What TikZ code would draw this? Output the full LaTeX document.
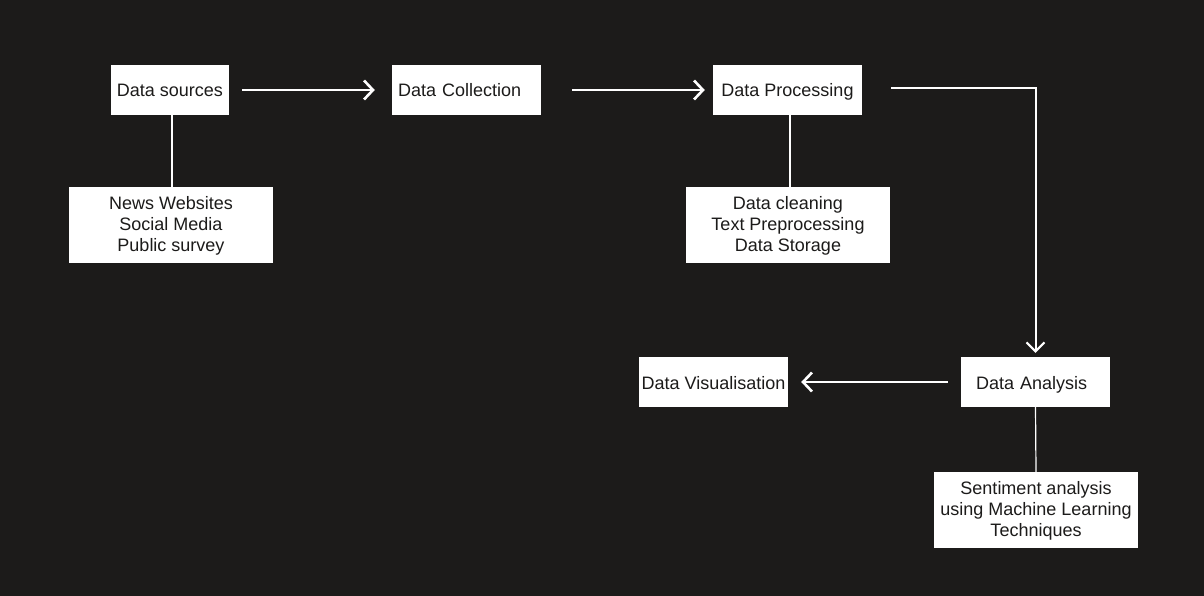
\documentclass[tikz,border=0pt]{standalone}
\usepackage{fontspec}
\setmainfont{Liberation Sans}
\usetikzlibrary{arrows.meta}
\definecolor{bg}{RGB}{28,27,26}
\begin{document}
\begin{tikzpicture}[x=1pt,y=-1pt,
  box/.style={fill=white, text=bg, inner sep=0pt, align=center,
    font=\fontsize{18}{21}\selectfont},
  single/.style={box, minimum height=50pt, text height=16pt, text depth=2pt},
  multi/.style={box, minimum width=204pt, minimum height=76pt},
  flow/.style={draw=white, line width=2.6pt,
    -{Straight Barb[length=9pt,width=19pt,line width=2.6pt]}},
  flowthin/.style={draw=white, line width=2pt,
    -{Straight Barb[length=9pt,width=18pt,line width=2pt]}},
  link/.style={draw=white, line width=1.2pt}]
\fill[bg] (0,0) rectangle (1204,596);
\useasboundingbox (0,0) rectangle (1204,596);

\node[single, minimum width=118pt] (src) at (170,90) {Data sources};
\node[single, minimum width=149pt, text width=137pt, align=left] (col) at (466.5,90) {Data Collection};
\node[single, minimum width=149pt] (proc) at (787.5,90) {Data Processing};
\node[multi] (news) at (171,225) {\rule{0pt}{15pt}News Websites\\Social Media\\Public survey};
\node[multi] (clean) at (788,225) {\rule{0pt}{15pt}Data cleaning\\Text Preprocessing\\Data Storage};
\node[single, minimum width=149pt] (vis) at (713.5,382) {Data Visualisation};
\node[single, minimum width=149pt, text width=119pt, align=left] (ana) at (1035.5,382) {Data Analysis};
\node[multi] (sent) at (1036,510) {\rule{0pt}{15pt}Sentiment analysis\\using Machine Learning\\Techniques};

\draw[flow, shorten <=13pt, shorten >=17pt] (src.east) -- (col.west);
\draw[flow, shorten <=31pt, shorten >=8pt] (col.east) -- (proc.west);
\draw[flowthin, shorten >=4pt] ([xshift=29pt,yshift=2pt]proc.east) -| (ana.north);
\draw[flow, shorten <=13pt, shorten >=13pt] (ana.west) -- (vis.east);

\draw[link] ([xshift=2pt]src.south) -- ([xshift=1pt]news.north);
\draw[link] ([xshift=2.5pt]proc.south) -- ([xshift=2pt]clean.north);
\draw[link] (ana.south) -- (sent.north);
\end{tikzpicture}
\end{document}
